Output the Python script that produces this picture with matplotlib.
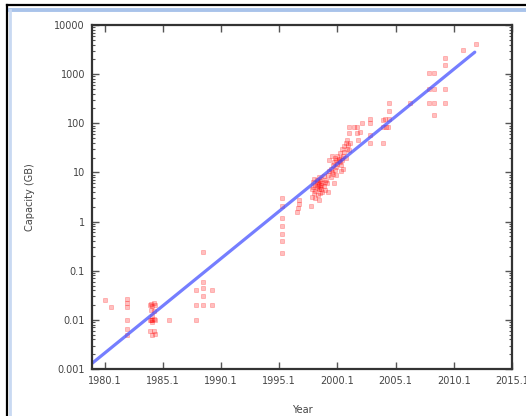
import matplotlib
matplotlib.use("Agg")
import matplotlib.pyplot as plt
from matplotlib.ticker import FixedLocator, FixedFormatter, LogLocator, NullFormatter
from matplotlib.lines import Line2D

# ---- data ----
years = [
    1980.1, 1980.6, 1982.0, 1982.0, 1982.0, 1982.0, 1982.0, 1982.0,
    1984.0, 1984.1, 1984.2, 1984.3, 1984.4, 1984.1, 1984.3, 1984.2, 1984.0, 1984.1,
    1984.2, 1984.3, 1984.4, 1984.2, 1984.0, 1984.3, 1984.2, 1984.4,
    1985.6,
    1987.9, 1987.9, 1987.9, 1988.5, 1988.5, 1988.5, 1988.5, 1988.5, 1989.3, 1989.3,
    1995.3, 1995.3, 1995.3, 1995.3, 1995.3, 1995.3, 1995.3,
    1996.8, 1996.8, 1996.7, 1996.6, 1997.8,
    1997.9, 1997.9, 1998.0, 1998.0, 1998.1, 1998.1, 1998.2, 1998.2, 1998.2, 1998.3,
    1998.3, 1998.3, 1998.4, 1998.4, 1998.4, 1998.5, 1998.5, 1998.5, 1998.5, 1998.6,
    1998.6, 1998.6, 1998.7, 1998.7, 1998.7, 1998.8, 1998.8, 1998.9, 1998.9, 1999.0,
    1999.0, 1999.1, 1999.2, 1999.3,
    1999.3, 1999.4, 1999.5, 1999.5, 1999.6, 1999.7, 1999.7, 1999.8, 1999.8, 1999.9,
    1999.9, 2000.0, 2000.0, 2000.1, 2000.1, 2000.2, 2000.2, 2000.3, 2000.3, 2000.4,
    2000.4, 2000.5, 2000.5, 2000.6, 2000.6, 2000.7, 2000.7, 2000.8, 2000.8, 2000.9,
    2000.9, 2001.0, 2001.1, 2001.2, 1999.4, 1999.6, 2000.0, 2000.4,
    2001.1, 2001.5, 2001.8, 2001.1, 2001.8, 2001.9, 2002.2, 2002.9, 2002.9, 2002.9,
    2002.9, 2002.0,
    2004.0, 2004.0, 2004.3, 2004.4, 2004.5, 2004.5, 2004.5, 2004.0, 2004.2,
    2006.3,
    2008.0, 2008.4, 2008.0, 2008.4, 2008.0, 2008.4, 2008.4,
    2009.3, 2009.3, 2009.3, 2009.3,
    2010.9, 2012.0,
]
capacity_gb = [
    0.025, 0.018, 0.027, 0.022, 0.018, 0.01, 0.0065, 0.005,
    0.02, 0.021, 0.019, 0.022, 0.02, 0.016, 0.015, 0.012, 0.01, 0.01,
    0.01, 0.0105, 0.01, 0.009, 0.006, 0.006, 0.005, 0.0052,
    0.01,
    0.04, 0.02, 0.01, 0.245, 0.06, 0.044, 0.03, 0.02, 0.04, 0.02,
    3.0, 2.1, 1.2, 0.8, 0.55, 0.4, 0.23,
    2.8, 2.3, 1.9, 1.6, 2.1,
    3.2, 4.5, 6.5, 5.0, 3.8, 7.5, 4.2, 5.5, 3.0, 6.0,
    4.8, 7.0, 5.2, 3.5, 6.3, 4.5, 5.8, 8.0, 2.8, 5.0,
    6.8, 3.8, 4.6, 5.6, 7.5, 6.0, 4.0, 5.2, 8.5, 6.5,
    4.3, 7.0, 6.0, 4.0,
    9.0, 10.5, 8.0, 12, 10, 14, 9.5, 6.0, 16, 11,
    20, 13, 18, 15, 22, 17, 19, 16, 25, 14,
    20, 18, 30, 12, 22, 26, 35, 20, 40, 30,
    45, 36, 28, 40, 18, 22, 9, 10.5,
    83, 83, 83, 63, 63, 46, 100, 120, 100, 58,
    39, 65,
    117, 85, 85, 85, 260, 175, 125, 39, 120,
    260,
    1050, 1050, 510, 510, 260, 260, 150,
    2100, 1550, 510, 260,
    3100, 4100,
]
fit_years = [1979.0, 2011.9]
fit_capacity = [0.0013, 2800]

x_ticks = [1980.1, 1985.1, 1990.1, 1995.1, 2000.1, 2005.1, 2010.1, 2015.1]
x_tick_labels = ["1980.1", "1985.1", "1990.1", "1995.1", "2000.1", "2005.1", "2010.1", "2015.1"]
y_ticks = [0.001, 0.01, 0.1, 1, 10, 100, 1000, 10000]
y_tick_labels = ["0.001", "0.01", "0.1", "1", "10", "100", "1000", "10000"]

# ---- figure ----
fig = plt.figure(figsize=(5.26, 4.16), dpi=100)
fig.patch.set_facecolor("white")

# window frame decoration
fig.add_artist(Line2D([7/526, 7/526], [0, 1 - 5/416], transform=fig.transFigure,
                      color="black", lw=1.6))
fig.add_artist(Line2D([7/526, 1], [1 - 5/416, 1 - 5/416], transform=fig.transFigure,
                      color="black", lw=1.6))
fig.add_artist(Line2D([10/526, 1], [1 - 9.5/416, 1 - 9.5/416], transform=fig.transFigure,
                      color="#a9c3ea", lw=2.8))
fig.add_artist(Line2D([10/526, 10/526], [0, 1 - 9.5/416], transform=fig.transFigure,
                      color="#c9d9f2", lw=2.0))

ax = fig.add_axes([92/526, 1 - 369/416, (512 - 92)/526, (369 - 25)/416])
ax.set_yscale("log")

ax.plot(years, capacity_gb, linestyle="none", marker="s", markersize=2.2,
        markerfacecolor=(1, 0, 0, 0.25), markeredgecolor=(1, 0, 0, 0.3),
        markeredgewidth=0.5)
ax.plot(fit_years, fit_capacity, color=(0.25, 0.3, 1.0), alpha=0.72, lw=2.3,
        solid_capstyle="round")

ax.set_xlim(1979.0, 2015.1)
ax.set_ylim(0.001, 10000)

ax.xaxis.set_major_locator(FixedLocator(x_ticks))
ax.xaxis.set_major_formatter(FixedFormatter(x_tick_labels))
ax.yaxis.set_major_locator(FixedLocator(y_ticks))
ax.yaxis.set_major_formatter(FixedFormatter(y_tick_labels))
ax.yaxis.set_minor_locator(LogLocator(base=10, subs=range(2, 10), numticks=20))
ax.yaxis.set_minor_formatter(NullFormatter())

for sp in ax.spines.values():
    sp.set_color("#333333")
    sp.set_linewidth(1.6)

ax.tick_params(which="major", direction="in", length=5, width=1.0, color="#555555",
               top=True, right=True, labelsize=7, labelcolor="#444444", pad=5)
ax.tick_params(which="minor", direction="in", length=2.5, width=0.8, color="#555555",
               left=True, right=True)

ax.set_xlabel("Year", fontsize=7, color="#444444")
ax.set_ylabel("Capacity (GB)", fontsize=7, color="#444444")
ax.xaxis.set_label_coords(0.5, -0.105)
ax.yaxis.set_label_coords(-0.135, 0.5)

fig.savefig("out.png", dpi=100)
